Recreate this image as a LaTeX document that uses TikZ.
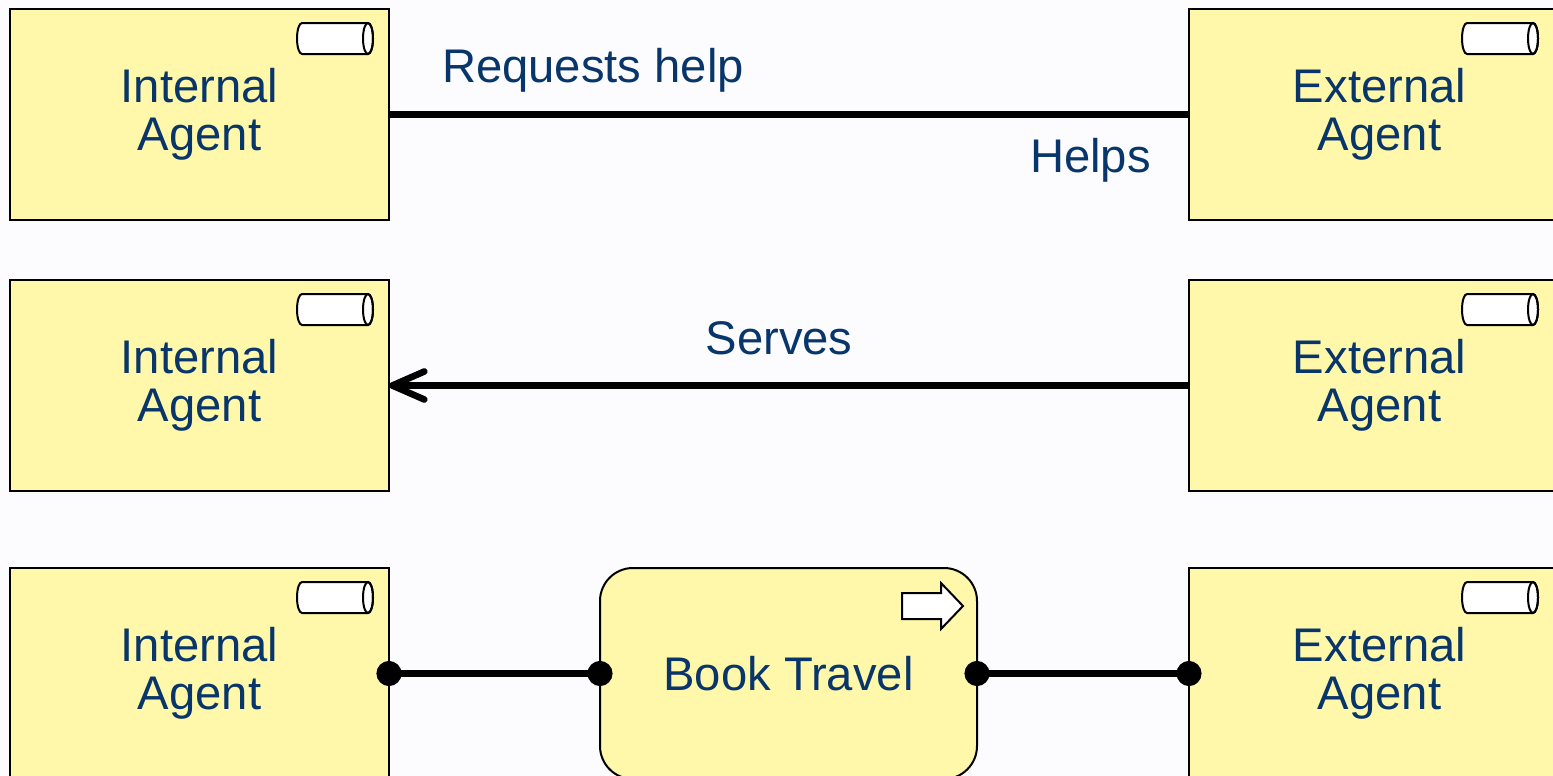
\documentclass[tikz,border=0pt]{standalone}
\usepackage{fontspec}
\setmainfont{Liberation Sans}
\usetikzlibrary{arrows.meta}
\definecolor{bg}{RGB}{252,252,255}
\definecolor{bizfill}{RGB}{255,247,170}
\definecolor{txt}{RGB}{8,54,106}
\tikzset{
  cylicon/.pic={
    \draw[line width=1pt, fill=white, line join=round]
      (5,0) -- (71,0) arc[start angle=90, end angle=-90, x radius=5, y radius=15.5]
      -- (5,-31) arc[start angle=270, end angle=90, x radius=5, y radius=15.5] -- cycle;
    \draw[line width=1pt] (71,-15.5) ellipse[x radius=5, y radius=15.5];
  },
  procicon/.pic={
    \draw[line width=1pt, fill=white, line join=miter]
      (0,-10) -- (39,-10) -- (39,0) -- (61,-23) -- (39,-46) -- (39,-36) -- (0,-36) -- cycle;
  }
}
\begin{document}
\begin{tikzpicture}[x=0.5pt,y=0.5pt,
  every node/.style={font=\fontsize{23.6pt}{24pt}\selectfont, text=txt},
  agentbox/.style={draw=black, line width=1pt, fill=bizfill, minimum width=189.5pt,
    minimum height=105.5pt, inner sep=0pt, outer sep=0pt, align=center},
  extbox/.style={agentbox, minimum width=190.5pt},
  procbox/.style={agentbox, minimum width=188.5pt, rounded corners=16.5pt},
  conn/.style={line width=3.3pt, draw=black},
  lbl/.style={anchor=base, inner sep=0pt}
]
\fill[bg] (0,0) rectangle (1553,-776);
\useasboundingbox (0,0) rectangle (1553,-776);
\clip (0,0) rectangle (1553,-776);

% row 1
\node[agentbox] (ia1) at (199.5,-114.5) {Internal\\Agent};
\node[extbox] (ea1) at (1379.5,-114.5) {External\\Agent};
\pic at (297,-23) {cylicon};
\pic at (1462,-23) {cylicon};
\draw[conn] (ia1.east) -- (ea1.west);
\node[lbl] (lreq) at (593,-82) {Requests help};
\node[lbl] (lhelps) at (1090.5,-172) {Helps};

% row 2
\node[agentbox] (ia2) at (199.5,-385.5) {Internal\\Agent};
\node[extbox] (ea2) at (1379.5,-385.5) {External\\Agent};
\pic at (297,-294) {cylicon};
\pic at (1462,-294) {cylicon};
\draw[conn, -{Straight Barb[length=16pt, width=14pt, round]}] (ea2.west) -- (ia2.east);
\node[lbl] (lserves) at (779,-354) {Serves};

% row 3
\node[agentbox] (ia3) at (199.5,-673.5) {Internal\\Agent};
\node[extbox] (ea3) at (1379.5,-673.5) {External\\Agent};
\node[procbox] (bt) at (788.5,-673.5) {Book Travel};
\pic at (297,-582) {cylicon};
\pic at (1462,-582) {cylicon};
\pic at (902,-583) {procicon};
\draw[conn, {Circle[length=12.5pt]}-{Circle[length=12.5pt]}, shorten <=-6.25pt, shorten >=-6.25pt] (ia3.east) -- (bt.west);
\draw[conn, {Circle[length=12.5pt]}-{Circle[length=12.5pt]}, shorten <=-6.25pt, shorten >=-6.25pt] (bt.east) -- (ea3.west);
\end{tikzpicture}
\end{document}
